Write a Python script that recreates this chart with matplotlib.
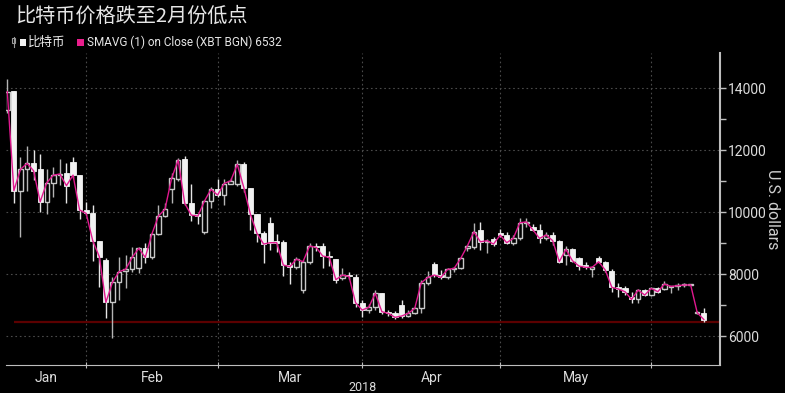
import numpy as np
import pandas as pd
import matplotlib
matplotlib.use("Agg")
import matplotlib.pyplot as plt
from matplotlib.patches import Rectangle

plt.rcParams['font.family'] = ['Roboto', 'Noto Sans CJK SC', 'DejaVu Sans']

# daily OHLC (business days from 16 Jan 2018)
opens = [13290, 13900, 10690, 11375, 11570, 11400, 10330, 10945, 11190, 11245,
         11620, 11190, 10065, 9955, 9075, 8450, 7085, 7730, 8096, 8150,
         8180, 8827, 8537, 9290, 9870, 10730, 11050, 11700, 10280, 9935,
         9365, 10354, 10730, 10547, 10920, 10915, 11536, 10784, 9924, 9332,
         9634, 9050, 9042, 8290, 8236, 7484, 8397, 8902, 8902, 8590,
         8483, 7860, 7967, 7914, 7075, 6838, 6924, 7376, 6785, 6730,
         7000, 6645, 6730, 6890, 7720, 8322, 7967, 7892, 8150, 8183,
         8850, 8870, 9420, 9040, 9117, 9310, 9257, 9010, 9150, 9655,
         9505, 9420, 9150, 9257, 9075, 8612, 8795, 8505, 8290, 8172,
         8505, 8397, 8107, 7570, 7537, 7270, 7180, 7484, 7322, 7537,
         7505, 7590, 7620, 7645, 7645, 6730, 6752]
highs = [14280, 13900, 11760, 12130, 12000, 11870, 11375, 11460, 11700, 11590,
         11760, 11190, 10330, 10225, 9075, 8505, 7915, 8560, 8612, 8860,
         8880, 8990, 9310, 10225, 10300, 11246, 11730, 11800, 10900, 9950,
         10380, 10817, 11050, 11050, 11100, 11676, 11600, 10784, 9924, 9400,
         9850, 9300, 9100, 8400, 8550, 8450, 9010, 9000, 8990, 8730,
         8500, 8180, 8080, 8000, 7160, 7030, 7500, 7376, 6850, 6820,
         7160, 6850, 6950, 7800, 8100, 8400, 8130, 8200, 8230, 8550,
         8950, 9640, 9690, 9120, 9200, 9450, 9370, 9250, 9795, 9795,
         9600, 9610, 9370, 9370, 9100, 8890, 8850, 8540, 8380, 8257,
         8580, 8420, 8150, 7720, 7620, 7430, 7505, 7520, 7590, 7570,
         7760, 7600, 7700, 7720, 7650, 6800, 6890]
lows = [13200, 10300, 9200, 10690, 11030, 10010, 9935, 10470, 10870, 10280,
        11100, 9760, 9900, 8430, 7590, 6570, 5935, 7160, 7537, 8080,
        8040, 8365, 8470, 9260, 9850, 10280, 11000, 10230, 9710, 9600,
        9300, 10140, 10500, 10220, 10900, 10850, 10650, 9420, 9040, 8344,
        8775, 8700, 7950, 7680, 8150, 7376, 8330, 8750, 8200, 8247,
        7700, 7806, 7850, 6950, 6600, 6730, 6850, 6700, 6650, 6550,
        6580, 6600, 6700, 6750, 7650, 7900, 7850, 7850, 8080, 8150,
        8750, 8800, 8775, 8670, 8900, 9200, 8980, 8950, 9100, 9530,
        9380, 9010, 9100, 8950, 8360, 8300, 8400, 8130, 8150, 7913,
        8350, 8050, 7430, 7270, 7330, 7053, 7053, 7280, 7280, 7380,
        7480, 7376, 7480, 7590, 7640, 6700, 6460]
closes = [13880, 10690, 11375, 11570, 11330, 10330, 10945, 11190, 11225, 10850,
          11190, 10065, 9955, 9075, 8560, 7085, 7730, 8075, 8150, 8537,
          8827, 8537, 9290, 9870, 10095, 11085, 11676, 10280, 9900, 9870,
          10354, 10730, 10547, 10920, 11010, 11536, 10784, 9924, 9310, 8967,
          9010, 9010, 8290, 8236, 8480, 8397, 8902, 8860, 8580, 8537,
          7817, 7967, 7920, 7075, 6838, 6924, 7376, 6785, 6730, 6602,
          6645, 6730, 6890, 7720, 7892, 7967, 7892, 8150, 8183, 8505,
          8900, 9360, 9040, 9075, 8967, 9257, 9010, 9150, 9655, 9680,
          9420, 9150, 9257, 9075, 8400, 8795, 8430, 8257, 8215, 8215,
          8397, 8128, 7570, 7516, 7430, 7180, 7484, 7322, 7537, 7430,
          7677, 7600, 7623, 7645, 7645, 6750, 6532]

support = 6450
y_ticks = [6000, 8000, 10000, 12000, 14000]
title = '比特币价格跌至2月份低点'
name = '比特币'
sma_label = 'SMAVG (1) on Close (XBT BGN) 6532'

dates = pd.bdate_range('2018-01-16', periods=len(closes))
x = np.arange(len(closes))
o = np.array(opens); h = np.array(highs); l = np.array(lows); c = np.array(closes)

bg = 'black'
fig = plt.figure(figsize=(7.85, 3.93), dpi=100, facecolor=bg)
ax = fig.add_axes([6/785, 28/393, 714/785, 312/393], facecolor=bg)

# month boundaries
month_starts = [i for i in range(1, len(dates)) if dates[i].month != dates[i-1].month]
xl = (-0.2, 108.46)
for m in month_starts:
    ax.axvline(m, color='#4a4a4a', lw=0.8, ls=(0, (1.5, 2.5)), zorder=0)
for yv in y_ticks:
    ax.axhline(yv, color='#4a4a4a', lw=0.8, ls=(0, (1.5, 2.5)), zorder=0)

ax.hlines(support, 1, xl[1], color='#5c0000', lw=1.6, zorder=1)

up = c >= o
down = ~up
bot = np.minimum(o, c)
ht = np.maximum(np.abs(c - o), 30)
ax.vlines(x[down], l[down], h[down], color='#e6e6e6', lw=1, zorder=2)
ax.vlines(x[up], l[up], h[up], color='#b4b4b4', lw=1, zorder=2)
ax.bar(x[down], ht[down], bottom=bot[down], width=0.78,
       color='#f2f2f2', edgecolor='#f2f2f2', lw=0.6, zorder=3)
ax.bar(x[up], ht[up], bottom=bot[up], width=0.68,
       color='black', edgecolor='#c8c8c8', lw=1, zorder=3)

ax.plot(x, c, color='#e0188f', lw=1.0, zorder=4)

ax.set_xlim(*xl)
ax.set_ylim(5065, 15130)

ax.yaxis.tick_right()
ax.set_yticks(y_ticks)
ax.set_yticks([7000, 9000, 11000, 13000], minor=True)
ax.tick_params(axis='y', which='both', colors='#bdbdbd', labelcolor='#dcdcdc',
               labelsize=10, direction='out', length=4, width=1, pad=2)
ax.set_ylabel('U.S. dollars', color='#cfcfcf', fontsize=11.5, rotation=270,
              labelpad=9)
ax.yaxis.set_label_position('right')

bounds = [xl[0]] + month_starts
label_pos = [(bounds[i] + bounds[i+1]) / 2 for i in range(len(bounds) - 1)]
label_txt = [dates[m - 1].strftime('%b') for m in month_starts]
ax.set_xticks(month_starts)
ax.set_xticklabels([])
ax.set_xticks(label_pos, minor=True)
ax.set_xticklabels(label_txt, minor=True)
ax.tick_params(axis='x', which='major', colors='#bdbdbd', direction='inout', length=5)
ax.tick_params(axis='x', which='minor', length=0, labelcolor='#dcdcdc',
               labelsize=10, pad=4)

for s in ['left', 'top']:
    ax.spines[s].set_visible(False)
ax.spines['bottom'].set_color('#bdbdbd')
ax.spines['right'].set_color('#bdbdbd')
ax.spines['right'].set_linewidth(1.5)

fig.text(0.5 * (6 + 720) / 785, 12 / 393, '2018', color='#dcdcdc',
         fontsize=9, ha='center', va='top')

fig.text(15/785, 1 - 16.5/393, title, color='#e6e6e6', fontsize=14.5,
         va='center', family=['Noto Sans CJK SC', 'DejaVu Sans'])

# legend row
ly = 1 - 42.5/393
fig.add_artist(plt.Line2D([13.5/785, 13.5/785], [1 - 47/393, 1 - 37/393],
                          color='#9a9a9a', lw=0.8))
fig.add_artist(Rectangle((12/785, 1 - 43/393), 3/785, 5/393, facecolor='black',
                         edgecolor='#9a9a9a', lw=0.8))
fig.add_artist(Rectangle((19.5/785, 1 - 45.5/393), 6.5/785, 7/393,
                         facecolor='#f2f2f2', edgecolor='none'))
fig.text(28/785, ly, name, color='#f0f0f0', fontsize=9, va='center',
         family=['Noto Sans CJK SC', 'DejaVu Sans'])
fig.add_artist(Rectangle((77/785, 1 - 45.5/393), 6.5/785, 7/393,
                         facecolor='#ea1e8c', edgecolor='none'))
fig.text(87/785, ly, sma_label, color='#e6e6e6', fontsize=8.5, va='center')

fig.savefig('out.png', dpi=100, facecolor=bg)
